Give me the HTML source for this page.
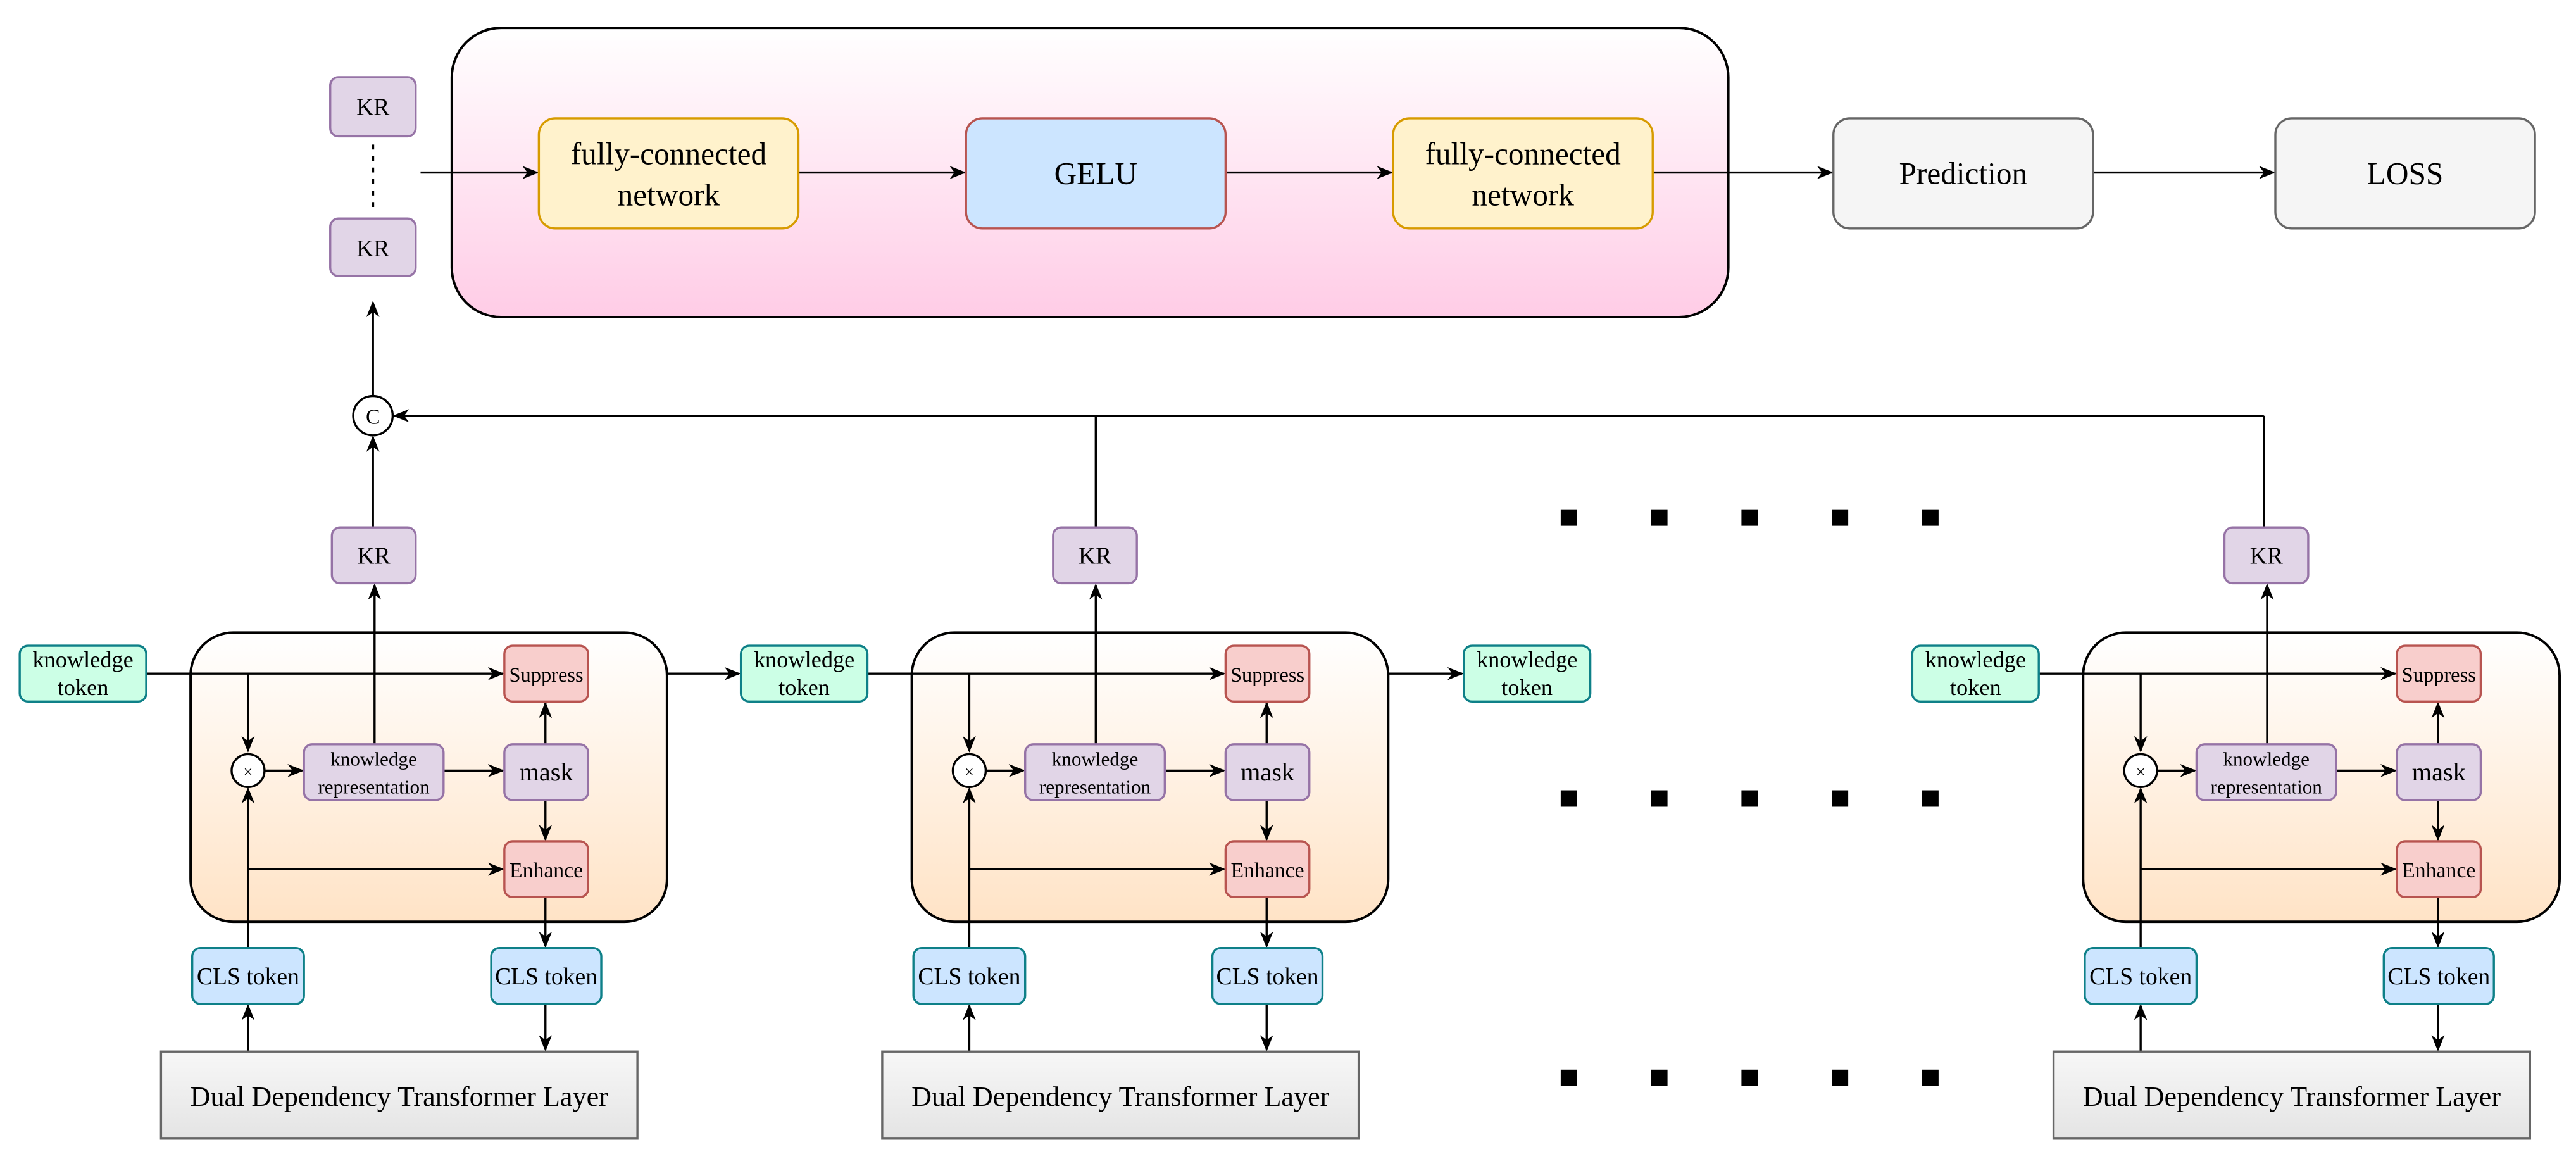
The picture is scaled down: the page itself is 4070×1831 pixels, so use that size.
<!DOCTYPE html>
<html><head><meta charset="utf-8"><style>
html,body{margin:0;padding:0;background:#fff;}
svg{display:block;}
text{font-family:"Liberation Serif","Times New Roman",serif;}
</style></head><body>
<svg width="4070" height="1831" viewBox="0 0 1568 705.4" preserveAspectRatio="none" xmlns="http://www.w3.org/2000/svg" font-family="Liberation Serif, serif">
<defs>
<linearGradient id="pk" x1="0" y1="0" x2="0" y2="1"><stop offset="0" stop-color="#ffffff"/><stop offset="1" stop-color="#ffcce6"/></linearGradient>
<linearGradient id="or" x1="0" y1="0" x2="0" y2="1"><stop offset="0" stop-color="#ffffff"/><stop offset="1" stop-color="#ffe3c6"/></linearGradient>
<linearGradient id="gr" x1="0" y1="0" x2="0" y2="1"><stop offset="0" stop-color="#f7f7f7"/><stop offset="1" stop-color="#e4e4e4"/></linearGradient>
<marker id="a" markerWidth="10" markerHeight="8" refX="9" refY="4" orient="auto" markerUnits="userSpaceOnUse"><path d="M0,0 L10,4 L0,8 L3,4 Z" fill="#000"/></marker>
<g id="mod" font-family="Liberation Serif, serif">
<rect x="116" y="385" width="290" height="176" rx="26" fill="url(#or)" stroke="#000" stroke-width="1.5"/>
<g stroke="#000" stroke-width="1.3" fill="none">
<line x1="89" y1="410" x2="306" y2="410" marker-end="url(#a)"/>
<line x1="151" y1="410" x2="151" y2="457" marker-end="url(#a)"/>
<line x1="161" y1="469" x2="184" y2="469" marker-end="url(#a)"/>
<line x1="270" y1="469" x2="306" y2="469" marker-end="url(#a)"/>
<line x1="332" y1="453" x2="332" y2="428" marker-end="url(#a)"/>
<line x1="332" y1="487" x2="332" y2="511" marker-end="url(#a)"/>
<line x1="151" y1="577" x2="151" y2="480" marker-end="url(#a)"/>
<line x1="151" y1="529" x2="306" y2="529" marker-end="url(#a)"/>
<line x1="332" y1="546" x2="332" y2="576" marker-end="url(#a)"/>
<line x1="332" y1="611" x2="332" y2="639" marker-end="url(#a)"/>
<line x1="151" y1="640" x2="151" y2="612" marker-end="url(#a)"/>
<line x1="228" y1="453" x2="228" y2="356" marker-end="url(#a)"/>
</g>
<rect x="12" y="393" width="77" height="34" rx="5" fill="#ccffe6" stroke="#0e8088" stroke-width="1.3"/>
<text x="50.5" y="406" font-size="14" text-anchor="middle">knowledge</text><text x="50.5" y="423" font-size="14" text-anchor="middle">token</text>
<rect x="307" y="393" width="51" height="34" rx="5" fill="#f8cecc" stroke="#b85450" stroke-width="1.3"/>
<text x="332.5" y="415" font-size="12.5" text-anchor="middle">Suppress</text>
<circle cx="151" cy="469" r="10" fill="#fff" stroke="#000" stroke-width="1.3"/>
<text x="151" y="473" font-size="10" text-anchor="middle">×</text>
<rect x="185" y="453" width="85" height="34" rx="5" fill="#e1d5e7" stroke="#9673a6" stroke-width="1.3"/>
<text x="227.5" y="466" font-size="12" text-anchor="middle">knowledge</text><text x="227.5" y="483" font-size="12" text-anchor="middle">representation</text>
<rect x="307" y="453" width="51" height="34" rx="5" fill="#e1d5e7" stroke="#9673a6" stroke-width="1.3"/>
<text x="332.5" y="475" font-size="15.5" text-anchor="middle">mask</text>
<rect x="307" y="512" width="51" height="34" rx="5" fill="#f8cecc" stroke="#b85450" stroke-width="1.3"/>
<text x="332.5" y="534" font-size="13" text-anchor="middle">Enhance</text>
<rect x="117" y="577" width="68" height="34" rx="5" fill="#cce5ff" stroke="#0e8088" stroke-width="1.3"/>
<text x="151" y="599" font-size="14.5" text-anchor="middle">CLS token</text>
<rect x="299" y="577" width="67" height="34" rx="5" fill="#cce5ff" stroke="#0e8088" stroke-width="1.3"/>
<text x="332.5" y="599" font-size="14.5" text-anchor="middle">CLS token</text>
<rect x="98" y="640" width="290" height="53" fill="url(#gr)" stroke="#666" stroke-width="1.3"/>
<text x="243" y="673" font-size="17" text-anchor="middle">Dual Dependency  Transformer Layer</text>
<rect x="202" y="321" width="51" height="34" rx="5" fill="#e1d5e7" stroke="#9673a6" stroke-width="1.3"/>
<text x="227.5" y="343" font-size="14.5" text-anchor="middle">KR</text>
</g>
</defs>

<!-- top -->
<rect x="275" y="17" width="777" height="176" rx="30" fill="url(#pk)" stroke="#000" stroke-width="1.5"/>
<rect x="201" y="47" width="52" height="36" rx="5" fill="#e1d5e7" stroke="#9673a6" stroke-width="1.3"/>
<text x="227" y="70" font-size="14.5" text-anchor="middle">KR</text>
<line x1="227" y1="88" x2="227" y2="128" stroke="#000" stroke-width="1.5" stroke-dasharray="3,4"/>
<rect x="201" y="133" width="52" height="35" rx="5" fill="#e1d5e7" stroke="#9673a6" stroke-width="1.3"/>
<text x="227" y="156" font-size="14.5" text-anchor="middle">KR</text>
<g stroke="#000" stroke-width="1.3" fill="none">
<line x1="256" y1="105" x2="327" y2="105" marker-end="url(#a)"/>
<line x1="486" y1="105" x2="587" y2="105" marker-end="url(#a)"/>
<line x1="746" y1="105" x2="847" y2="105" marker-end="url(#a)"/>
<line x1="1006" y1="105" x2="1115" y2="105" marker-end="url(#a)"/>
<line x1="1274" y1="105" x2="1384" y2="105" marker-end="url(#a)"/>
<line x1="227" y1="241" x2="227" y2="184" marker-end="url(#a)"/>
<line x1="1378" y1="321" x2="1378" y2="253"/>
<line x1="667" y1="321" x2="667" y2="253"/>
<line x1="1378" y1="253" x2="240" y2="253" marker-end="url(#a)"/>
<line x1="227" y1="321" x2="227" y2="266" marker-end="url(#a)"/>
<line x1="358" y1="410" x2="450" y2="410" marker-end="url(#a)"/>
<line x1="797" y1="410" x2="890" y2="410" marker-end="url(#a)"/>
</g>
<circle cx="227" cy="253" r="12" fill="#fff" stroke="#000" stroke-width="1.3"/>
<text x="227" y="258" font-size="13" text-anchor="middle">C</text>
<rect x="328" y="72" width="158" height="67" rx="10" fill="#fff2cc" stroke="#d79b00" stroke-width="1.3"/>
<text x="407" y="100" font-size="19" text-anchor="middle">fully-connected</text><text x="407" y="125" font-size="19" text-anchor="middle">network</text>
<rect x="588" y="72" width="158" height="67" rx="10" fill="#cce5ff" stroke="#b85450" stroke-width="1.3"/>
<text x="667" y="112" font-size="19" text-anchor="middle">GELU</text>
<rect x="848" y="72" width="158" height="67" rx="10" fill="#fff2cc" stroke="#d79b00" stroke-width="1.3"/>
<text x="927" y="100" font-size="19" text-anchor="middle">fully-connected</text><text x="927" y="125" font-size="19" text-anchor="middle">network</text>
<rect x="1116" y="72" width="158" height="67" rx="10" fill="#f5f5f5" stroke="#666" stroke-width="1.3"/>
<text x="1195" y="112" font-size="19" text-anchor="middle">Prediction</text>
<rect x="1385" y="72" width="158" height="67" rx="10" fill="#f5f5f5" stroke="#666" stroke-width="1.3"/>
<text x="1464" y="112" font-size="19" text-anchor="middle">LOSS</text>

<use href="#mod"/>
<use href="#mod" transform="translate(439,0)"/>
<rect x="891" y="393" width="77" height="34" rx="5" fill="#ccffe6" stroke="#0e8088" stroke-width="1.3"/>
<text x="929.5" y="406" font-size="14" text-anchor="middle">knowledge</text><text x="929.5" y="423" font-size="14" text-anchor="middle">token</text>
<use href="#mod" transform="translate(1152,0)"/>

<g fill="#000">
<rect x="950" y="310" width="10" height="10"/><rect x="1005" y="310" width="10" height="10"/><rect x="1060" y="310" width="10" height="10"/><rect x="1115" y="310" width="10" height="10"/><rect x="1170" y="310" width="10" height="10"/>
<rect x="950" y="481" width="10" height="10"/><rect x="1005" y="481" width="10" height="10"/><rect x="1060" y="481" width="10" height="10"/><rect x="1115" y="481" width="10" height="10"/><rect x="1170" y="481" width="10" height="10"/>
<rect x="950" y="651" width="10" height="10"/><rect x="1005" y="651" width="10" height="10"/><rect x="1060" y="651" width="10" height="10"/><rect x="1115" y="651" width="10" height="10"/><rect x="1170" y="651" width="10" height="10"/>
</g>
</svg>
</body></html>
